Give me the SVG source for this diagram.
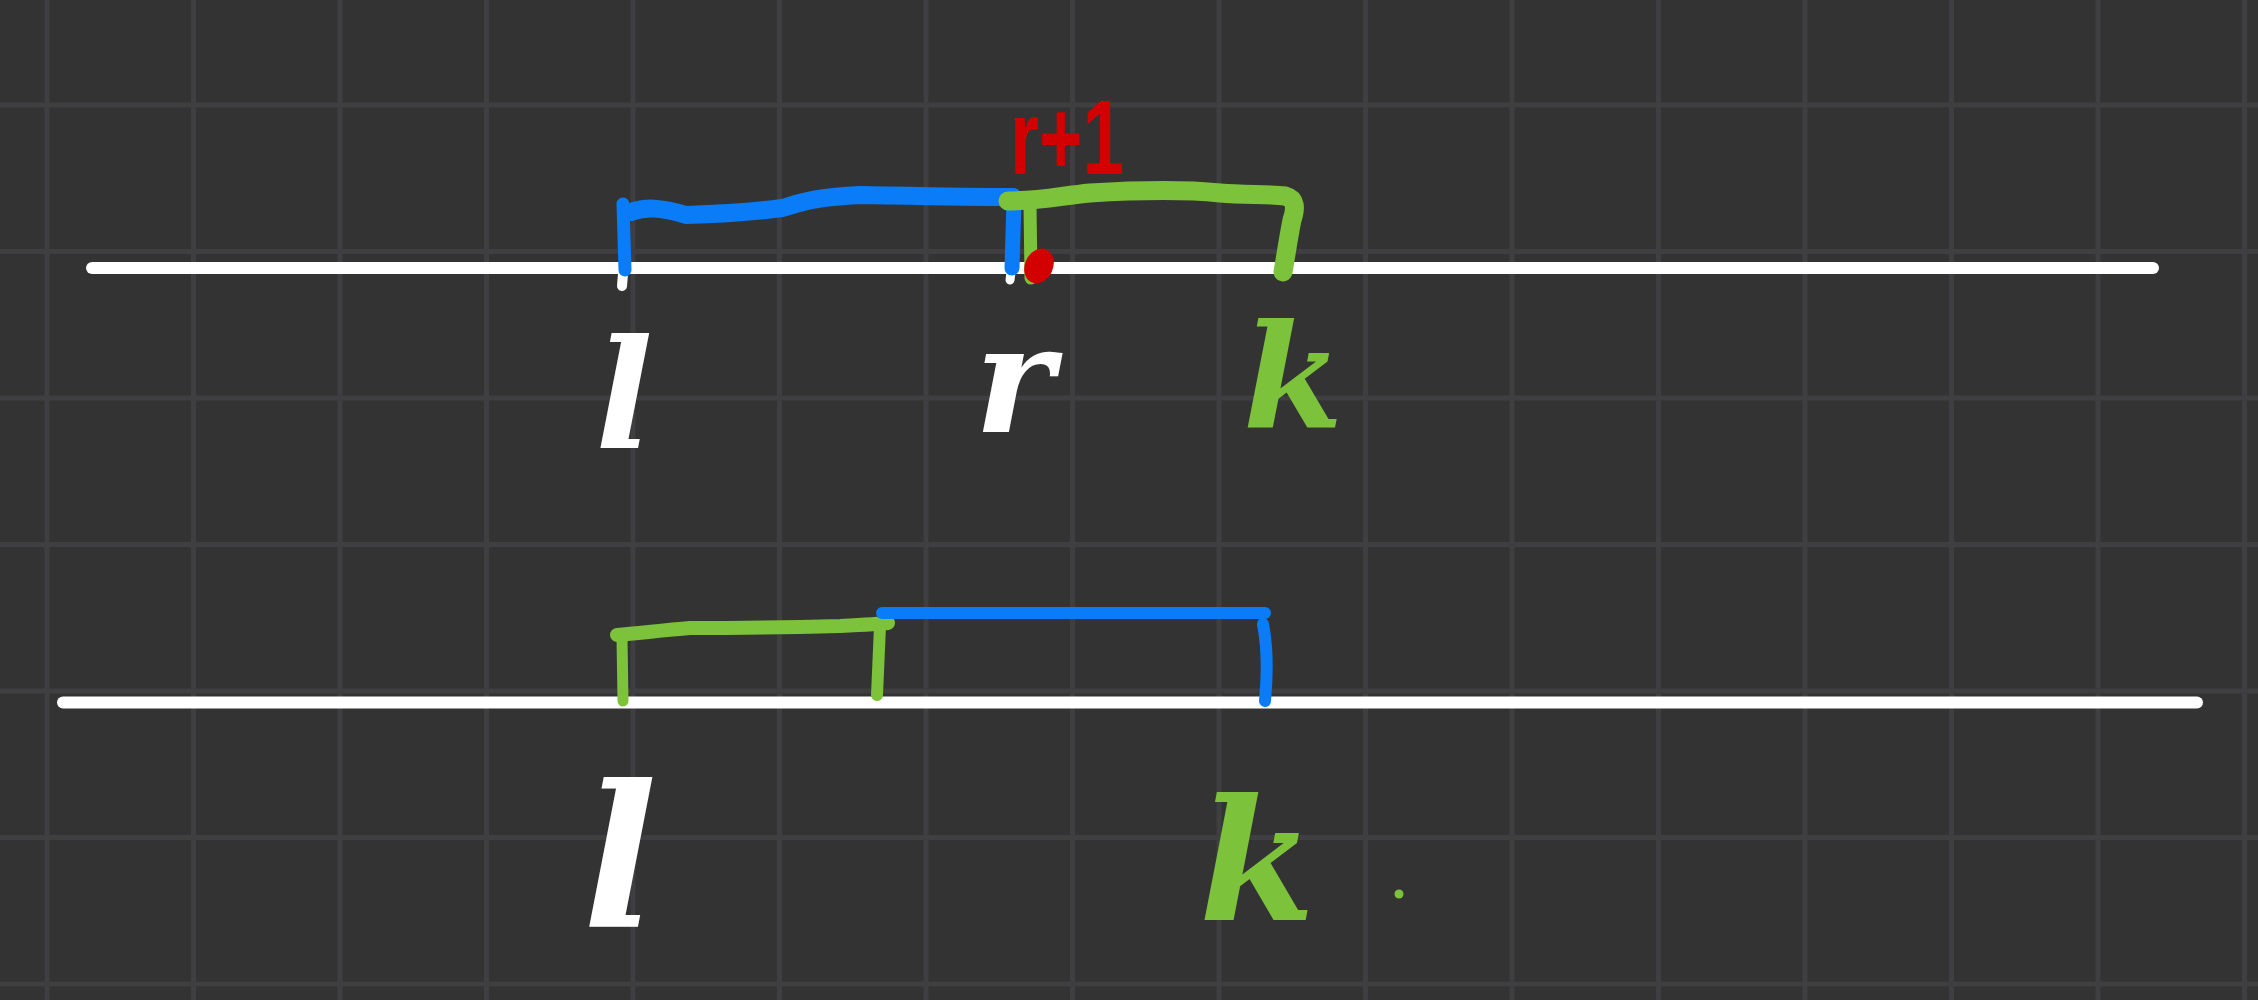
<svg xmlns="http://www.w3.org/2000/svg" width="2258" height="1000" viewBox="0 0 2258 1000">
<style>
.grid{stroke:#3f3f41;stroke-width:5;fill:none}
.axis{stroke:#ffffff;stroke-width:12;stroke-linecap:round;fill:none}
.ink{fill:none;stroke-linecap:round;stroke-linejoin:round}
.blue{stroke:#0a7cf8}
.green{stroke:#7cc23a}
.letter{font-family:"DejaVu Serif","Liberation Serif",serif;font-style:italic;font-weight:bold;text-anchor:middle}
.w{fill:#ffffff}
.g{fill:#7cc23a}
</style>
<rect width="2258" height="1000" fill="#333333"/>
<g id="grid" class="grid">
<path d="M47,0V1000M193.5,0V1000M340,0V1000M486.5,0V1000M633,0V1000M779.5,0V1000M926,0V1000M1072.5,0V1000M1219,0V1000M1365.5,0V1000M1512,0V1000M1658.5,0V1000M1805,0V1000M1951.5,0V1000M2098,0V1000M2244.5,0V1000"/>
<path d="M0,105H2258M0,251.5H2258M0,398H2258M0,544.5H2258M0,691H2258M0,837.5H2258M0,984H2258"/>
</g>
<g id="axis-top"><line class="axis" x1="92" y1="268" x2="2153" y2="268"/></g>
<g id="axis-bottom"><line class="axis" x1="63" y1="702.5" x2="2197" y2="702.5"/></g>
<g id="connectors">
<path class="ink" stroke="#ffffff" stroke-width="10" d="M623,274 L622,286"/>
<path class="ink" stroke="#ffffff" stroke-width="9" d="M1011,272 L1010,280"/>
<path class="ink blue" stroke-width="13" d="M623,204 L625,270"/>
<path class="ink blue" stroke-width="18" d="M631,212 C645,207 660,207 686,215 C720,214 760,211 782,208 C800,203 815,197 860,195 C920,196 970,197 1013,197"/>
<path class="ink blue" stroke-width="15" d="M1014,200 L1012,268"/>
<path class="ink green" stroke-width="13" d="M1030,204 L1031,278"/>
<path class="ink green" stroke-width="19" d="M1008,201 C1040,201 1060,196 1090,193 C1140,190 1190,190 1220,193 C1245,195 1270,194 1285,196 C1296,199 1296,208 1292,220 C1288,240 1286,255 1283,272"/>
<ellipse cx="1039" cy="266" rx="14" ry="18" transform="rotate(25 1039 266)" fill="#d20000"/>
<path class="ink green" stroke-width="11" d="M622,638 L623,701"/>
<path class="ink green" stroke-width="14" d="M617,635 C640,633 665,630 690,628 C750,628 800,627 840,626 C860,625 880,624 888,623"/>
<path class="ink green" stroke-width="12" d="M880,626 L877,695"/>
<path class="ink blue" stroke-width="12" d="M882,613 L1265,613"/>
<path class="ink blue" stroke-width="12" d="M1263,624 C1268,650 1267,680 1265,701"/>
</g>
<g id="label-r-plus-1">
<text x="1010" y="174" textLength="114" lengthAdjust="spacingAndGlyphs" font-family="'Liberation Sans','DejaVu Sans',sans-serif" font-weight="bold" font-size="105" fill="#d20000">r+1</text>
</g>
<g id="label-l-top"><text class="letter w" x="624" y="448" font-size="152">l</text></g>
<g id="label-r-top"><text class="letter w" x="1014" y="432" font-size="150">r</text></g>
<g id="label-k-top"><text class="letter g" x="1293" y="428" font-size="145">k</text></g>
<g id="label-l-bottom"><text class="letter w" x="620" y="927" font-size="197">l</text></g>
<g id="label-k-bottom"><text class="letter g" x="1257" y="920" font-size="168">k</text></g>
<g id="dot"><circle cx="1399" cy="894" r="4.5" fill="#7cc23a"/></g>
</svg>
